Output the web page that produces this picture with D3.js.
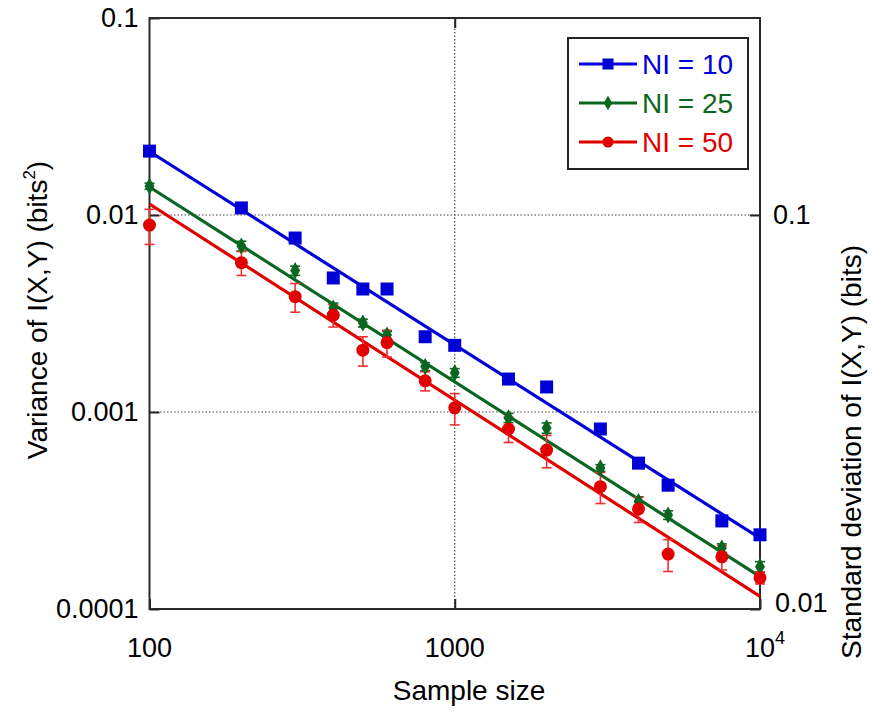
<!DOCTYPE html>
<html>
<head>
<meta charset="utf-8">
<script src="https://cdn.jsdelivr.net/npm/d3@7"></script>
<style>
  html, body { margin: 0; padding: 0; background: #fff; }
  svg { display: block; font-family: "Liberation Sans", Arial, sans-serif; }
</style>
</head>
<body>
<svg id="chart" width="872" height="715"></svg>
<script>
// Sample sizes at which the estimator was evaluated
const sampleSizes = [100, 200, 300, 400, 500, 600, 800, 1000, 1500, 2000, 3000, 4000, 5000, 7500, 10000];

// Variance of I(X,Y) in bits^2 for each number of intervals
const varNI10 = [0.0211, 0.01086, 0.00764, 0.00479, 0.00421, 0.00421, 0.00241, 0.00218, 0.00147, 0.00134, 0.00082, 0.00055, 0.000425, 0.00028, 0.000238];
const varNI25 = [0.0140, 0.00696, 0.00522, 0.00337, 0.00283, 0.00246, 0.00170, 0.00158, 0.000933, 0.00083, 0.00052, 0.000351, 0.000300, 0.000204, 0.000164];
const varNI50 = [0.00889, 0.00573, 0.00385, 0.00310, 0.00206, 0.00225, 0.00144, 0.00105, 0.00082, 0.000641, 0.000418, 0.000322, 0.000190, 0.000184, 0.000144];

// Error bar half-widths (bits^2)
const errNI25 = [0.0005, 0.0004, 0.00028, 0.0002, 0.00013, 0.0001, 0.00008, 0.00008, 0.00005, 0.00005, 0.00002, 0.00002, 0.000015, 0.00001, 0.00001];
const errNI50 = [0.0018, 0.0008, 0.00064, 0.0004, 0.00035, 0.00035, 0.00016, 0.00019, 0.00012, 0.00012, 0.000075, 0.000047, 0.000035, 0.000026, 0.00001];

// Power-law fit lines: variance at the first and last sample size
const fitSizes = [100, 10000];
const fitNI10 = [0.0210, 0.000229];
const fitNI25 = [0.01387, 0.000146];
const fitNI50 = [0.01137, 0.000116];

// Axis ticks
const xTicks = [100, 1000, 10000];
const yTicks = [0.1, 0.01, 0.001, 0.0001];
const yTickLabels = ["0.1", "0.01", "0.001", "0.0001"];
const sdTicks = [0.1, 0.01];
const sdTickLabels = ["0.1", "0.01"];

const series = [
  { name: "NI = 10", values: varNI10, err: null, fit: fitNI10, color: "#0000d6", marker: "square" },
  { name: "NI = 25", values: varNI25, err: errNI25, fit: fitNI25, color: "#0b6620", marker: "diamond" },
  { name: "NI = 50", values: varNI50, err: errNI50, fit: fitNI50, color: "#e00000", errColor: "#f03030", marker: "circle" }
];

const svg = d3.select("#chart");
const pL = 149.5, pR = 760, pT = 18, pB = 609;

const x = d3.scaleLog().domain([100, 10000]).range([pL, pR]);
const y = d3.scaleLog().domain([1e-4, 0.1]).range([pB, pT]);
const ySd = d3.scaleLog().domain([0.01, Math.sqrt(0.1)]).range([pB, pT]);

// Dotted grid lines
const grid = svg.append("g").attr("stroke", "#444").attr("stroke-width", 1.2).attr("stroke-dasharray", "1.5,2");
grid.append("line").attr("x1", x(1000)).attr("x2", x(1000)).attr("y1", pT).attr("y2", pB);
[0.01, 0.001].forEach(v => {
  grid.append("line").attr("x1", pL).attr("x2", pR).attr("y1", y(v)).attr("y2", y(v));
});

// Axes with inward ticks
const fs = 27;      // tick labels
const fsTitle = 28; // axis titles
const axL = svg.append("g").attr("transform", `translate(${pL},0)`)
  .call(d3.axisLeft(y).tickValues(yTicks).tickFormat((d, i) => yTickLabels[i]).tickSizeInner(-10).tickSizeOuter(0).tickPadding(11));
const axB = svg.append("g").attr("transform", `translate(0,${pB})`)
  .call(d3.axisBottom(x).tickValues(xTicks).tickFormat(() => "").tickSizeInner(-10).tickSizeOuter(0));
const axT = svg.append("g").attr("transform", `translate(0,${pT})`)
  .call(d3.axisTop(x).tickValues([1000]).tickFormat(() => "").tickSizeInner(-10).tickSizeOuter(0));
const axR = svg.append("g").attr("transform", `translate(${pR},0)`)
  .call(d3.axisRight(ySd).tickValues(sdTicks).tickFormat((d, i) => sdTickLabels[i]).tickSizeInner(-10).tickSizeOuter(0).tickPadding(13));
[axL, axB, axT, axR].forEach(g => {
  g.select(".domain").remove();
  g.selectAll(".tick line").attr("stroke", "#222").attr("stroke-width", 2);
  g.selectAll("text").attr("font-size", fs).attr("fill", "#000").attr("font-family", "Liberation Sans, Arial, sans-serif");
});
axR.selectAll(".tick text").attr("dy", (d, i) => i === 1 ? "0.1em" : "0.32em");
axR.selectAll(".tick").filter((d, i) => i === 1).select("text").attr("x", 15);

// Bottom tick labels with a superscript for 10^4
const xl = svg.append("g").attr("font-size", fs).attr("text-anchor", "middle");
xl.append("text").attr("x", x(100)).attr("y", 657).text("100");
xl.append("text").attr("x", x(1000)).attr("y", 657).text("1000");
const t4 = xl.append("text").attr("x", x(10000) + 5).attr("y", 657);
t4.append("tspan").text("10");
t4.append("tspan").attr("font-size", 18).attr("dy", -13).text("4");

// Frame
svg.append("rect").attr("x", pL).attr("y", pT).attr("width", pR - pL).attr("height", pB - pT)
  .attr("fill", "none").attr("stroke", "#2a2a2a").attr("stroke-width", 2);

// Fit lines
const line = d3.line().x(d => x(d[0])).y(d => y(d[1]));
series.forEach(s => {
  svg.append("path").datum(fitSizes.map((n, i) => [n, s.fit[i]]))
    .attr("d", line).attr("fill", "none").attr("stroke", s.color).attr("stroke-width", 3.2);
});

// Error bars
series.filter(s => s.err).forEach(s => {
  const g = svg.append("g").attr("stroke", s.errColor || s.color).attr("stroke-width", 1.6);
  sampleSizes.forEach((n, i) => {
    const lo = y(s.values[i] - s.err[i]), hi = y(s.values[i] + s.err[i]), cx = x(n);
    g.append("line").attr("x1", cx).attr("x2", cx).attr("y1", lo).attr("y2", hi);
    g.append("line").attr("x1", cx - 5).attr("x2", cx + 5).attr("y1", lo).attr("y2", lo);
    g.append("line").attr("x1", cx - 5).attr("x2", cx + 5).attr("y1", hi).attr("y2", hi);
  });
});

// Markers
function drawMarker(g, type, cx, cy, color, scale) {
  const k = scale || 1;
  if (type === "square") {
    g.append("rect").attr("x", cx - 6.5 * k).attr("y", cy - 6.5 * k).attr("width", 13 * k).attr("height", 13 * k).attr("fill", color);
  } else if (type === "diamond") {
    g.append("path").attr("d", d3.symbol(d3.symbolDiamond, 85 * k * k)()).attr("transform", `translate(${cx},${cy})`).attr("fill", color);
  } else {
    g.append("circle").attr("cx", cx).attr("cy", cy).attr("r", 6.5 * k).attr("fill", color);
  }
}
series.forEach(s => {
  const g = svg.append("g");
  sampleSizes.forEach((n, i) => drawMarker(g, s.marker, x(n), y(s.values[i]), s.color));
});

// Legend
const lg = svg.append("g");
lg.append("rect").attr("x", 568).attr("y", 38).attr("width", 180).attr("height", 131)
  .attr("fill", "#fff").attr("stroke", "#222").attr("stroke-width", 2);
series.forEach((s, i) => {
  const ly = 64 + i * 39;
  lg.append("line").attr("x1", 579).attr("x2", 637).attr("y1", ly).attr("y2", ly).attr("stroke", s.color).attr("stroke-width", 3);
  drawMarker(lg, s.marker, 608, ly, s.color, 0.85);
  lg.append("text").attr("x", 642).attr("y", ly).attr("dy", "0.36em").attr("font-size", 28).attr("fill", s.color).text(s.name);
});

// Axis titles
svg.append("text").attr("x", 469).attr("y", 700).attr("text-anchor", "middle").attr("font-size", fsTitle).text("Sample size");
const yt = svg.append("text").attr("transform", "translate(47,310) rotate(-90)").attr("text-anchor", "middle").attr("font-size", fsTitle);
yt.append("tspan").text("Variance of I(X,Y) (bits");
yt.append("tspan").attr("font-size", 17).attr("dy", -12).text("2");
yt.append("tspan").attr("dy", 12).text(")");
svg.append("text").attr("transform", "translate(861,452) rotate(-90)").attr("text-anchor", "middle").attr("font-size", fsTitle)
  .text("Standard deviation of I(X,Y) (bits)");
</script>
</body>
</html>
